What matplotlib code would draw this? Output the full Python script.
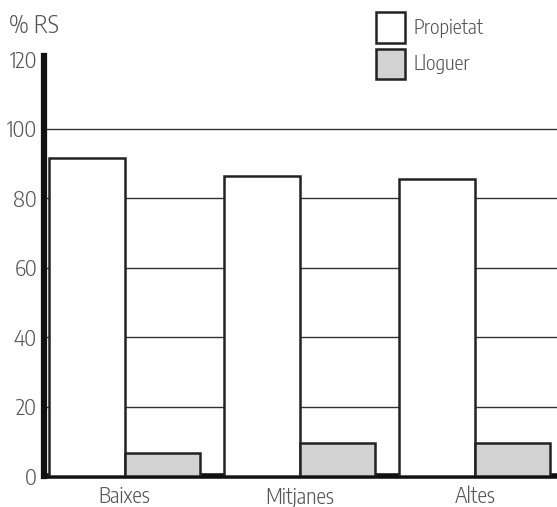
import matplotlib.pyplot as plt
from matplotlib.patches import Patch

categories = ['Baixes', 'Mitjanes', 'Altes']
propietat = [91.5, 86.5, 85.5]
lloguer = [6.5, 9.5, 9.5]
yticks = [0, 20, 40, 60, 80, 100, 120]

plt.rcParams['font.family'] = ['Encode Sans Condensed', 'DejaVu Sans']
plt.rcParams['font.weight'] = 300

fig = plt.figure(figsize=(5.57, 5.07), dpi=100)
ax = fig.add_axes([0.079, 0.061, 0.921, 0.829])

x = list(range(len(categories)))
w = 0.43
ax.bar([i - w / 2 for i in x], propietat, w, color='white', edgecolor='#222222', linewidth=1.8, zorder=3)
ax.bar([i + w / 2 for i in x], lloguer, w, color='#d2d2d2', edgecolor='#222222', linewidth=1.8, zorder=3)

for y in yticks[1:-1]:
    ax.axhline(y, color='#333333', linewidth=1, zorder=1)

ax.set_xlim(-0.46, 2.47)
ax.set_ylim(0, 121)
ax.set_yticks(yticks)
ax.set_xticks(x)
ax.set_xticklabels(categories)
ax.tick_params(axis='y', length=0, labelsize=16, labelcolor='#555555', pad=5)
ax.tick_params(axis='x', length=0, labelsize=15.5, labelcolor='#555555', pad=7)

for s in ['top', 'right']:
    ax.spines[s].set_visible(False)
ax.spines['left'].set_linewidth(4.5)
ax.spines['bottom'].set_linewidth(4)
ax.spines['left'].set_color('#111111')
ax.spines['bottom'].set_color('#111111')

fig.text(0.016, 0.935, '% RS', fontsize=17.5, color='#555555')

handles = [Patch(facecolor='white', edgecolor='#222222', linewidth=1.8),
           Patch(facecolor='#d2d2d2', edgecolor='#222222', linewidth=1.8)]
fig.legend(handles, ['Propietat', 'Lloguer'], loc='upper left', bbox_to_anchor=(0.642, 1.012),
           frameon=False, fontsize=14.5, handlelength=1.45, handleheight=1.95,
           handletextpad=0.45, labelspacing=0.3, labelcolor='#555555')

fig.savefig('out.png', dpi=100)
